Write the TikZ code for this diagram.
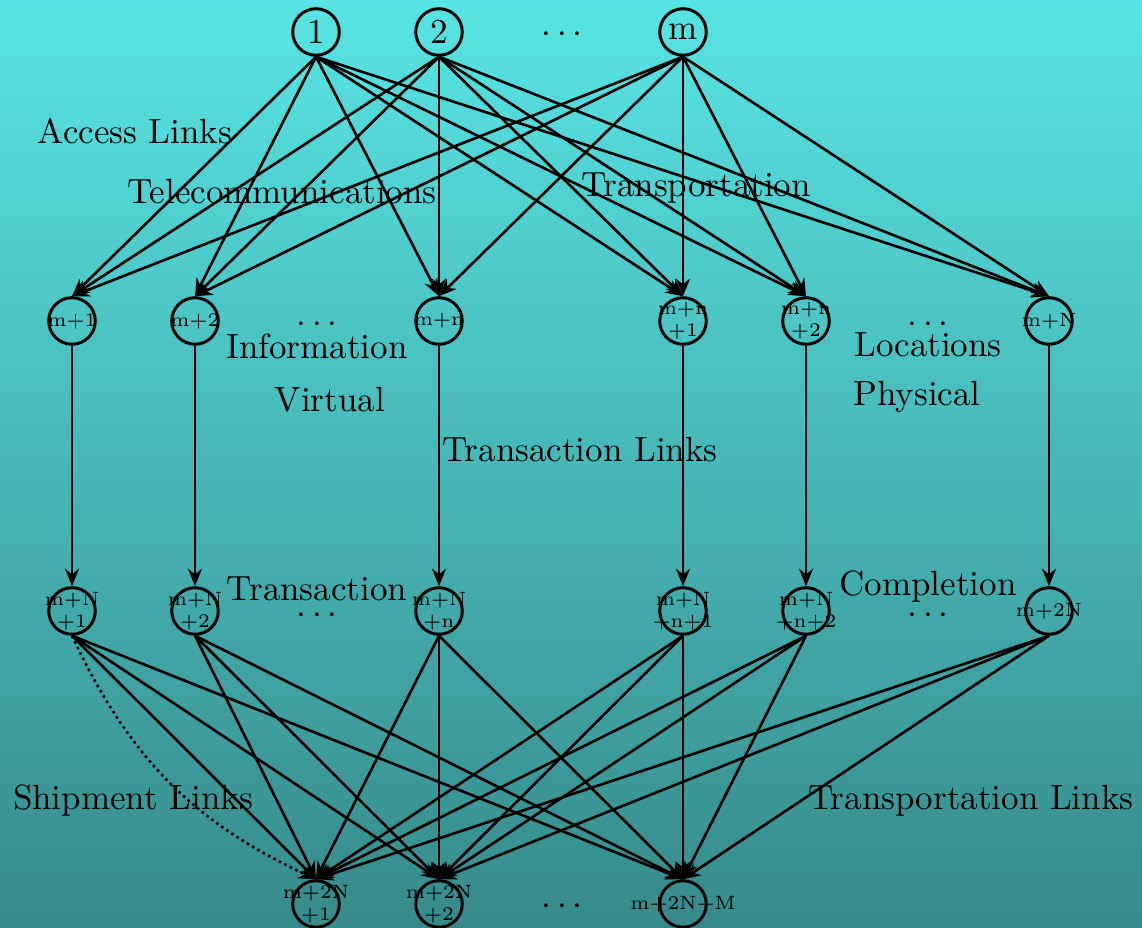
\documentclass[tikz,border=0pt]{standalone}
\usetikzlibrary{arrows.meta}
\definecolor{bgtop}{RGB}{88,228,228}
\definecolor{bgbot}{RGB}{55,138,138}
\tikzset{
  vtx/.style={circle,draw,line width=0.85pt,minimum size=13.3pt,inner sep=0pt},
  small/.style={font=\fontsize{5.5}{6.4}\selectfont,align=center,inner sep=0pt},
  lbl/.style={inner sep=0pt},
  link/.style={line width=0.75pt,-{Stealth[length=5pt,width=4pt]}},
}
\begin{document}
\begin{tikzpicture}[x=0.2857pt,y=-0.2857pt]
\shade[top color=bgtop,bottom color=bgbot] (0,0) rectangle (1142,928);
\useasboundingbox (0,0) rectangle (1142,928);
% top row
\node[vtx] (t1) at (316,32) {1};
\node[vtx] (t2) at (439,32) {2};
\node[vtx] (tm) at (683,32) {m};
\node[lbl] (d0) at (562,35) {$\cdots$};
% second row
\node[vtx,label={[small]center:m+1}] (a1) at (72,321) {};
\node[vtx,label={[small]center:m+2}] (a2) at (195,321) {};
\node[vtx,label={[small]center:m+n}] (a3) at (439,321) {};
\node[vtx,label={[small]center:{m+n\\+1}}] (a4) at (683,321) {};
\node[vtx,label={[small]center:{m+n\\+2}}] (a5) at (806,321) {};
\node[vtx,label={[small]center:m+N}] (a6) at (1049,321) {};
\node[lbl] (d1) at (317,325) {$\cdots$};
\node[lbl] (d2) at (928,325) {$\cdots$};
% third row
\node[vtx,label={[small]center:{m+N\\+1}}] (b1) at (72,611) {};
\node[vtx,label={[small]center:{m+N\\+2}}] (b2) at (195,611) {};
\node[vtx,label={[small]center:{m+N\\+n}}] (b3) at (439,611) {};
\node[vtx,label={[small]center:{m+N\\+n+1}}] (b4) at (683,611) {};
\node[vtx,label={[small]center:{m+N\\+n+2}}] (b5) at (806,611) {};
\node[vtx,label={[small]center:m+2N}] (b6) at (1049,611) {};
\node[lbl] (d3) at (317,616) {$\cdots$};
\node[lbl] (d4) at (928,616) {$\cdots$};
% bottom row
\node[vtx,label={[small]center:{m+2N\\+1}}] (c1) at (316,904) {};
\node[vtx,label={[small]center:{m+2N\\+2}}] (c2) at (439,904) {};
\node[vtx,label={[small]center:m+2N+M}] (c3) at (683,904) {};
\node[lbl] (d5) at (562,907) {$\cdots$};
% edges
\foreach \s in {t1,t2,tm}
  \foreach \t in {a1,a2,a3,a4,a5,a6}
    \draw[link] (\s.south) -- (\t.north);
\foreach \i in {1,...,6}
  \draw[link] (a\i.south) -- (b\i.north);
\foreach \i in {1,...,6}
  \foreach \j in {1,2,3}
    \draw[link] (b\i.south) -- (c\j.north);
\draw[link,densely dotted] (b1.south) to[bend right=20] (c1.north);
% text labels
\node[lbl] (l1) at (135,131) {Access Links};
\node[lbl] (l2) at (282,192) {Telecommunications};
\node[lbl] (l3) at (696,188) {Transportation};
\node[lbl] (l4) at (317,346) {Information};
\node[lbl] (l5) at (330,400) {Virtual};
\node[lbl] (l6) at (928,345) {Locations};
\node[lbl] (l7) at (917,397) {Physical};
\node[lbl] (l8) at (580,450) {Transaction Links};
\node[lbl] (l9) at (317,589) {Transaction};
\node[lbl] (l10) at (928,587) {Completion};
\node[lbl] (l11) at (133,801) {Shipment Links};
\node[lbl] (l12) at (971,801) {Transportation Links};
\end{tikzpicture}
\end{document}
